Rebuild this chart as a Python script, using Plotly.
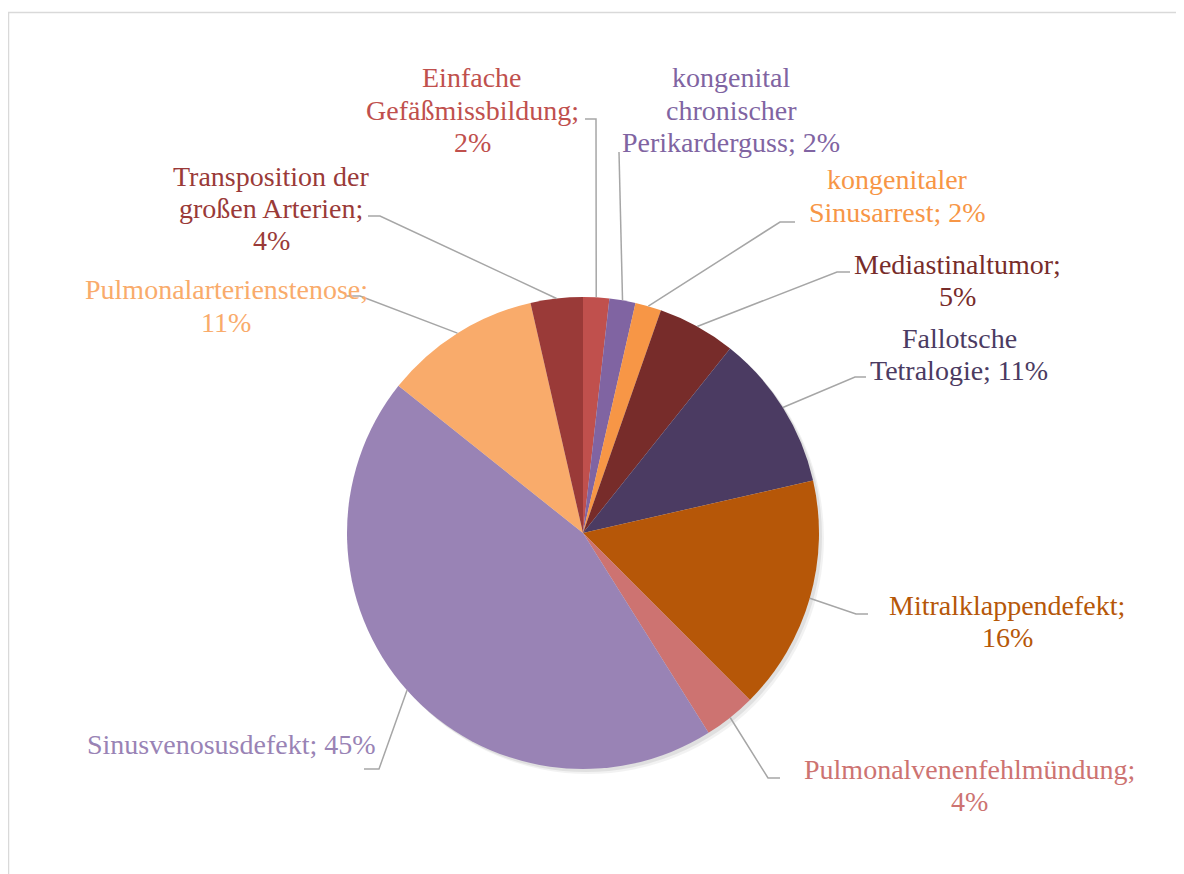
import math
import plotly.graph_objects as go

# ---------------- data ----------------
categories = [
    "Einfache Gefäßmissbildung",
    "kongenital chronischer Perikarderguss",
    "kongenitaler Sinusarrest",
    "Mediastinaltumor",
    "Fallotsche Tetralogie",
    "Mitralklappendefekt",
    "Pulmonalvenenfehlmündung",
    "Sinusvenosusdefekt",
    "Pulmonalarterienstenose",
    "Transposition der großen Arterien",
]
values = [1, 1, 1, 3, 6, 9, 2, 25, 6, 2]

# ---------------- style ----------------
colors = ["#C0504D", "#8064A2", "#F79646", "#772C2A", "#4B3B62",
          "#B65708", "#CD7371", "#9983B5", "#F9AB6B", "#9A3A38"]

# how each label is wrapped ({p} = percentage)
label_lines = [
    ["Einfache", "Gefäßmissbildung;", "{p}"],
    ["kongenital", "chronischer", "Perikarderguss; {p}"],
    ["kongenitaler", "Sinusarrest; {p}"],
    ["Mediastinaltumor;", "{p}"],
    ["Fallotsche", "Tetralogie; {p}"],
    ["Mitralklappendefekt;", "{p}"],
    ["Pulmonalvenenfehlmündung;", "{p}"],
    ["Sinusvenosusdefekt; {p}"],
    ["Pulmonalarterienstenose;", "{p}"],
    ["Transposition der", "großen Arterien;", "{p}"],
]
# label placement in screen pixels: (centre x, first-line y)
label_pos = [(472, 78), (731, 78), (897, 180), (957, 264), (959, 338),
             (1007, 605), (969, 769), (231, 744), (226, 290), (271, 176)]
# leader line elbow and end (screen pixels)
leader = [((596, 119), (585, 119)), ((619, 152), (619, 152)),
          ((780, 222), (795, 222)), ((837, 272), (850, 272)),
          ((855, 377), (866, 377)), ((856, 614), (868, 614)),
          ((768, 778), (780, 778)), ((379, 769), (364, 769)),
          ((360, 296), (345, 296)), ((380, 216), (368, 216))]

OX, OY = 8, 8          # page body margin
W, H = 1176, 866
LINE_H = 32.3
FONT = "Liberation Serif"
FSIZE = 28

def px(x):
    return (x - OX) / W

def py(y):
    return 1 - (y - OY) / H

# pie geometry (screen pixels)
pie_left, pie_right, pie_top, pie_bottom = 347, 819, 297, 769
cx = (pie_left + pie_right) / 2
cy = (pie_top + pie_bottom) / 2
R = (pie_right - pie_left) / 2

fig = go.Figure()
fig.add_trace(go.Pie(
    labels=categories,
    values=values,
    sort=False,
    direction="clockwise",
    rotation=0,
    textinfo="none",
    marker=dict(colors=colors, line=dict(width=0)),
    domain=dict(x=[px(pie_left), px(pie_right)], y=[py(pie_bottom), py(pie_top)]),
    showlegend=False,
    hoverinfo="label+percent",
))

shapes = []
# subtle drop shadow under the pie
for off, alpha in [(5, 0.05), (3, 0.07)]:
    shapes.append(dict(type="circle", xref="paper", yref="paper", layer="below",
                       x0=px(pie_left + off), x1=px(pie_right + off),
                       y0=py(pie_bottom + off), y1=py(pie_top + off),
                       fillcolor=f"rgba(0,0,0,{alpha})", line=dict(width=0)))
# chart border
shapes.append(dict(type="rect", xref="paper", yref="paper",
                   x0=px(8.5), x1=px(1184 + 30), y0=py(874 + 30), y1=py(12.5),
                   line=dict(color="#D9D9D9", width=1.5), fillcolor="rgba(0,0,0,0)"))

annotations = []
total = sum(values)
cum = 0
for i, v in enumerate(values):
    mid = (cum + v / 2) / total * 2 * math.pi
    cum += v
    sx = cx + R * math.sin(mid)
    sy = cy - R * math.cos(mid)
    (ex, ey), (tx, ty) = leader[i]
    path = f"M {px(sx)},{py(sy)} L {px(ex)},{py(ey)} L {px(tx)},{py(ty)}"
    shapes.append(dict(type="path", xref="paper", yref="paper", path=path,
                       line=dict(color="#A6A6A6", width=1.5)))
    pct = f"{round(v / total * 100)}%"
    lx, ly = label_pos[i]
    for j, line in enumerate(label_lines[i]):
        annotations.append(dict(
            x=px(lx), y=py(ly + j * LINE_H), xref="paper", yref="paper",
            text=line.replace("{p}", pct), showarrow=False,
            xanchor="center", yanchor="middle",
            font=dict(family=FONT, size=FSIZE, color=colors[i]),
        ))

fig.update_layout(
    width=W, height=H,
    margin=dict(l=0, r=0, t=0, b=0),
    paper_bgcolor="white", plot_bgcolor="white",
    font=dict(family=FONT),
    shapes=shapes, annotations=annotations,
)

fig.write_html("out.html")
